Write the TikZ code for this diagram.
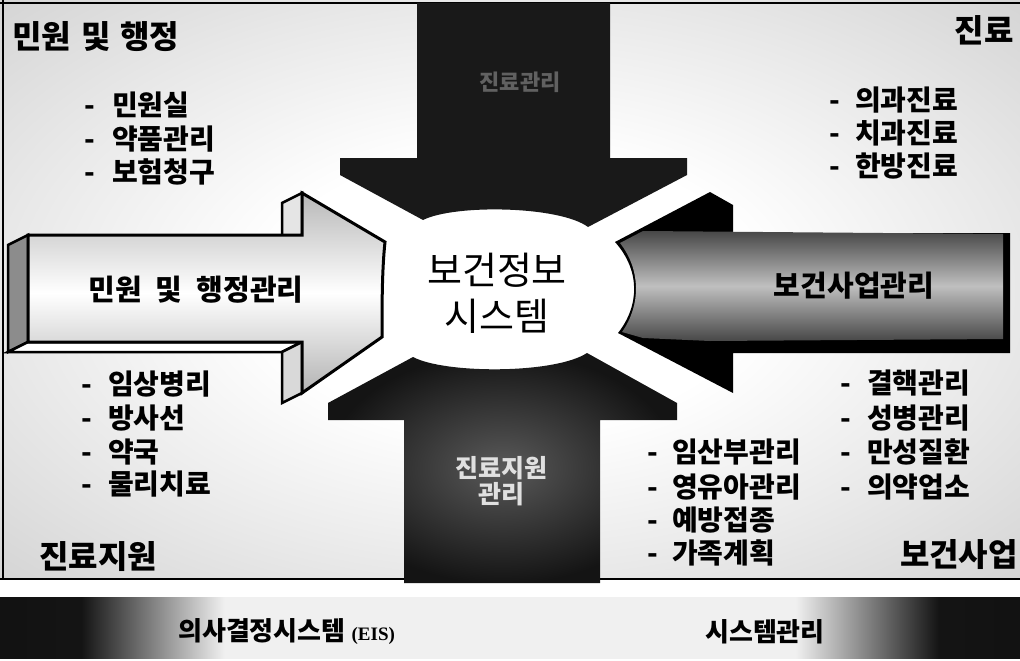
\documentclass[tikz,border=0pt]{standalone}
\usepackage{fontspec}
\newfontfamily\kr{Noto Sans CJK KR}
\newfontfamily\latn{Liberation Serif}
\newcommand\dsh[1]{\makebox[#1][l]{-}}
\colorlet{bgin}{white}
\colorlet{bgmid}{black!9}
\colorlet{bgout}{black!17}
\colorlet{barmid}{black!6}
\colorlet{bardark}{black!92}
\pgfdeclareradialshading{bgshade}{\pgfpoint{0bp}{0bp}}{color(0bp)=(bgin); color(12bp)=(bgin); color(25bp)=(bgmid); color(36bp)=(bgout); color(50bp)=(bgout)}
\pgfdeclarehorizontalshading{barshade}{100bp}{color(0bp)=(black); color(29bp)=(bardark); color(36bp)=(barmid); color(64bp)=(barmid); color(71bp)=(bardark); color(100bp)=(black)}
\begin{document}
\begin{tikzpicture}[x=1pt,y=-1pt,
  quad/.style={font=\kr\bfseries\fontsize{32}{36}\selectfont, inner sep=0pt},
  item/.style={font=\kr\bfseries\fontsize{28}{30}\selectfont, anchor=west, inner sep=0pt},
  arrowtext/.style={font=\kr\bfseries\fontsize{29}{32}\selectfont, inner sep=0pt},
  bartext/.style={font=\kr\bfseries\fontsize{26}{28}\selectfont, anchor=west, inner sep=0pt},
  edge3d/.style={draw=black, line width=2.5pt, line join=miter}]
\useasboundingbox (0,0) rectangle (1020,661);
\fill[white] (0,0) rectangle (1020,661);
% speckled background
\shade[shading=bgshade] (0,0) rectangle (1020,579);
\draw[line width=2pt] (0,3) -- (1020,3);
\draw[line width=2pt] (3,0) -- (3,579);
\draw[line width=1.5pt] (0,579) -- (1020,579);
% bottom bar
\shade[shading=barshade] (0,597) rectangle (1020,658);
% top arrow
\fill[black!90] (417,3) -- (610,3) -- (610,158) -- (687,158) -- (687,175) -- (588,227)
  .. controls (560,206) and (455,204) .. (423,220) -- (340,175) -- (340,158) -- (417,158) -- cycle;
% bottom arrow
\shade[inner color=black!65, outer color=black!92] (404,583) -- (404,420) -- (328,420) -- (328,403) -- (413,357)
  .. controls (445,374) and (555,374) .. (587,353) -- (677,403) -- (677,420) -- (600,420) -- (600,583) -- cycle;
% right arrow
\fill[black] (710,192) -- (733,205) -- (733,233) -- (1010,233) -- (1010,353) -- (733,353) -- (733,393) -- (618,333)
  .. controls (640,305) and (640,270) .. (615,242) -- cycle;
\shade[top color=black!72, bottom color=black!72, middle color=black!25] (620,243) -- (643,231) -- (1003,234) -- (1003,339)
  -- (710,341) -- (643,338) -- (622,332) .. controls (641,305) and (641,270) .. (620,243) -- cycle;
% left arrow (3D)
\fill[black] (302,393) -- (382,337) -- (362,347) -- (282,403) -- cycle;
\filldraw[edge3d, fill=black!45] (28,235) -- (28,342) -- (8,352) -- (8,245) -- cycle;
\filldraw[edge3d, fill=white] (28,342) -- (302,342) -- (282,352) -- (8,352) -- cycle;
\filldraw[edge3d, fill=black!10] (302,193) -- (302,235) -- (282,245) -- (282,203) -- cycle;
\filldraw[edge3d, fill=black!15] (302,342) -- (302,393) -- (282,403) -- (282,352) -- cycle;
\shade[top color=black!28, bottom color=black!30, middle color=white] (28,235) -- (302,235) -- (302,193) -- (385,242)
  .. controls (382,270) and (382,305) .. (382,337) -- (302,393) -- (302,342) -- (28,342) -- cycle;
\draw[edge3d, line width=3pt] (28,235) -- (302,235) -- (302,193) -- (385,242)
  .. controls (382,270) and (382,305) .. (382,337) -- (302,393) -- (302,342) -- (28,342) -- cycle;
% centre
\node[font=\kr\fontsize{38}{46}\selectfont, align=center, inner sep=0pt] (hub) at (497,293) {보건정보\\시스템};
% arrow labels
\node[font=\kr\bfseries\fontsize{22}{24}\selectfont, text=black!62, inner sep=0pt] (topa) at (520,82) {진료관리};
\node[font=\kr\bfseries\fontsize{25}{26}\selectfont, text=black!12, align=center, inner sep=0pt] (bota) at (501,481) {진료지원\\관리};
\node[arrowtext] (lefta) at (196,290) {민원\hspace{14pt}및\hspace{14pt}행정관리};
\node[arrowtext] (righta) at (854,286) {보건사업관리};
% quadrant titles
\node[quad, anchor=west] (tl) at (12,37) {민원\hspace{10pt}및\hspace{10pt}행정};
\node[quad, anchor=east] (tr) at (1014,30) {진료};
\node[quad, anchor=west] (bl) at (39,557) {진료지원};
\node[quad, anchor=east] (br) at (1018,555) {보건사업};
% items top-left
\node[item] (tl1) at (84,105) {\dsh{28pt}민원실};
\node[item] (tl2) at (84,139) {\dsh{28pt}약품관리};
\node[item] (tl3) at (84,172) {\dsh{28pt}보험청구};
% items top-right
\node[item] (tr1) at (829,100) {\dsh{26pt}의과진료};
\node[item] (tr2) at (829,133) {\dsh{26pt}치과진료};
\node[item] (tr3) at (829,166) {\dsh{26pt}한방진료};
% items bottom-left
\node[item] (bl1) at (81,384) {\dsh{27pt}임상병리};
\node[item] (bl2) at (81,418) {\dsh{27pt}방사선};
\node[item] (bl3) at (81,452) {\dsh{27pt}약국};
\node[item] (bl4) at (81,484) {\dsh{27pt}물리치료};
% items bottom-right
\node[item] (br1) at (840,383) {\dsh{27pt}결핵관리};
\node[item] (br2) at (840,418) {\dsh{27pt}성병관리};
\node[item] (br3) at (840,452) {\dsh{27pt}만성질환};
\node[item] (br4) at (840,487) {\dsh{27pt}의약업소};
\node[item] (bm1) at (647,452) {\dsh{25pt}임산부관리};
\node[item] (bm2) at (647,487) {\dsh{25pt}영유아관리};
\node[item] (bm3) at (647,520) {\dsh{25pt}예방접종};
\node[item] (bm4) at (647,553) {\dsh{25pt}가족계획};
% bar texts
\node[bartext] (eis) at (178,632) {의사결정시스템\hspace{6pt}{\latn\bfseries\fontsize{19}{22}\selectfont (EIS)}};
\node[bartext] (sysm) at (705,632) {시스템관리};
\end{tikzpicture}
\end{document}
